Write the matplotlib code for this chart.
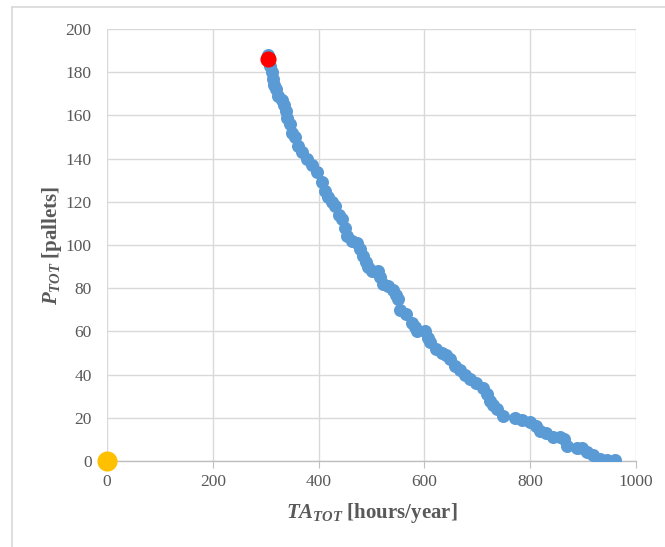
import matplotlib
matplotlib.use("Agg")
import matplotlib.pyplot as plt
from matplotlib.lines import Line2D

# Data
ta_tot = [304, 308, 312, 314, 316, 319, 323, 331, 335, 338, 340, 346, 350, 355, 361,
          369, 378, 388, 397, 406, 412, 418, 425, 431, 439, 444, 450, 454, 463, 473,
          478, 484, 490, 493, 501, 512, 516, 522, 531, 541, 546, 550, 554, 565, 577,
          582, 586, 601, 607, 611, 622, 633, 641, 648, 658, 667, 677, 686, 698, 711,
          718, 724, 730, 737, 749, 771, 784, 800, 811, 819, 830, 843, 856, 864, 870,
          888, 898, 907, 919, 932, 945, 960]
p_tot = [188, 183, 180, 177, 174, 172, 169, 167, 165, 162, 159, 156, 152, 150, 146,
         143, 140, 137, 134, 129, 125, 122, 120, 118, 114, 112, 108, 104, 102, 101,
         98, 95, 92, 90, 88, 88, 85, 82, 81, 79, 77, 75, 70, 68, 64,
         62, 60, 60, 57, 55, 52, 50, 49, 47, 44, 42, 40, 38, 36, 34,
         31, 28, 26, 24, 21, 20, 19, 18, 16, 14, 13, 11, 11, 10, 7,
         6, 6, 4, 3, 1, 0.5, 0.5]
red_point = ([304], [186])
origin_point = ([0], [0])
x_ticks = [0, 200, 400, 600, 800, 1000]
y_ticks = [0, 20, 40, 60, 80, 100, 120, 140, 160, 180, 200]

plt.rcParams['font.family'] = ['Liberation Serif', 'DejaVu Serif']
plt.rcParams['mathtext.fontset'] = 'custom'
plt.rcParams['mathtext.it'] = 'Liberation Serif:italic:bold'
plt.rcParams['mathtext.rm'] = 'Liberation Serif:bold'
plt.rcParams['mathtext.bf'] = 'Liberation Serif:bold'

fig = plt.figure(figsize=(6.65, 5.47), dpi=100)
ax = fig.add_axes([0.1609, 0.1572, 0.7955, 0.7898])

grid_c = '#D9D9D9'
text_c = '#595959'

ax.scatter(ta_tot, p_tot, s=88, color='#5B9BD5', zorder=3, linewidths=0)
ax.scatter(*red_point, s=135, color='#FF0000', zorder=4, linewidths=0)
ax.scatter(*origin_point, s=210, color='#FFC000', zorder=4, linewidths=0, clip_on=False)

ax.set_xlim(0, 1000)
ax.set_ylim(0, 200)
ax.set_xticks(x_ticks)
ax.set_yticks(y_ticks)
ax.grid(True, color=grid_c, linewidth=1.0)
ax.set_axisbelow(True)

for s in ['top', 'right', 'left']:
    ax.spines[s].set_visible(False)
ax.spines['bottom'].set_color('#BFBFBF')
ax.spines['bottom'].set_linewidth(1.0)

ax.tick_params(axis='x', direction='out', length=5, color='#BFBFBF', pad=4,
               labelsize=12.5, labelcolor=text_c)
ax.tick_params(axis='y', length=0, pad=11, labelsize=12.5, labelcolor=text_c)

ax.set_xlabel(r'$TA_{TOT}$ [hours/year]', fontsize=15, fontweight='bold',
              color=text_c, labelpad=8)
ax.set_ylabel(r'$P_{TOT}$ [pallets]', fontsize=15, fontweight='bold',
              color=text_c, labelpad=1)

# figure frame (top and left lines)
fig.add_artist(Line2D([12/665, 1.0], [1 - 7/547, 1 - 7/547], color=grid_c, lw=1.2,
                      transform=fig.transFigure))
fig.add_artist(Line2D([12/665, 12/665], [0, 1 - 7/547], color=grid_c, lw=1.2,
                      transform=fig.transFigure))

fig.savefig('out.png', dpi=100)
